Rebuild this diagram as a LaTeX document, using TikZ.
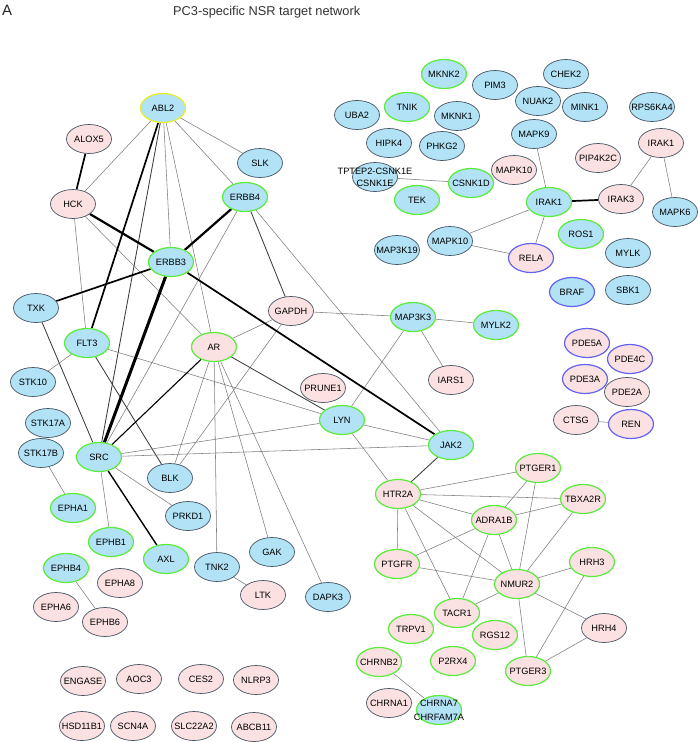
\documentclass[tikz,border=0pt]{standalone}
\usepackage{fontspec}
\setmainfont{Liberation Sans}
\usetikzlibrary{shapes.geometric,backgrounds}
\definecolor{nblue}{RGB}{178,226,246}
\definecolor{npink}{RGB}{251,225,225}
\definecolor{ndef}{RGB}{70,85,100}
\definecolor{ngreen}{RGB}{90,235,60}
\definecolor{nyellow}{RGB}{235,235,40}
\definecolor{nviolet}{RGB}{100,100,240}
\definecolor{egray}{RGB}{125,125,125}
\definecolor{edark}{RGB}{60,60,60}
\newcommand\zb[1]{\makebox[0pt]{#1}}
\newcommand\twol[4]{\makebox[0pt]{\raisebox{#3}[0pt][0pt]{\makebox[0pt]{#1}}\raisebox{#4}[0pt][0pt]{\makebox[0pt]{#2}}}}
\tikzset{
 gn/.style={ellipse, minimum width=45pt, minimum height=29pt, inner sep=0pt, font=\fontsize{9.2}{11}\selectfont},
 bl/.style={fill=nblue}, pk/.style={fill=npink},
 bd/.style={draw=ndef, line width=0.7pt},
 bg/.style={draw=ngreen, line width=1.2pt},
 by/.style={draw=nyellow, line width=1.2pt},
 bv/.style={draw=nviolet, line width=1.2pt},
 e/.style={draw=egray, line width=0.55pt},
 em/.style={draw=edark, line width=0.85pt},
 et/.style={draw=black, line width=1.7pt},
 ett/.style={draw=black, line width=2.2pt},
 ettt/.style={draw=black, line width=3pt}
}
\begin{document}
\begin{tikzpicture}[x=1pt,y=-1pt]
\useasboundingbox (0,0) rectangle (697,742);
% title
\node[anchor=base west, inner sep=0pt, font=\fontsize{15}{17}\selectfont, text=black!85] (lblA) at (2,15) {A};
\node[anchor=base west, inner sep=0pt, font=\fontsize{12.8}{15}\selectfont, text=black!80] (title) at (173,15) {PC3-specific NSR target network};
% left cluster
\node[gn,bl,by] (ABL2) at (163,108) {\zb{ABL2}};
\node[gn,pk,bd] (ALOX5) at (89,139) {\zb{ALOX5}};
\node[gn,bl,bd] (SLK) at (260,163) {\zb{SLK}};
\node[gn,pk,bd] (HCK) at (73,204) {\zb{HCK}};
\node[gn,bl,bg] (ERBB4) at (245,197) {\zb{ERBB4}};
\node[gn,bl,bg] (ERBB3) at (171,262) {\zb{ERBB3}};
\node[gn,bl,bd] (TXK) at (36,308) {\zb{TXK}};
\node[gn,bl,bg] (FLT3) at (87,343) {\zb{FLT3}};
\node[gn,pk,bd] (GAPDH) at (291,311) {\zb{GAPDH}};
\node[gn,pk,bg] (AR) at (214,347) {\zb{AR}};
\node[gn,bl,bd] (STK10) at (33,382) {\zb{STK10}};
\node[gn,pk,bd] (PRUNE1) at (323,388) {\zb{PRUNE1}};
\node[gn,bl,bg] (LYN) at (342,420) {\zb{LYN}};
\node[gn,bl,bd] (STK17A) at (48,423) {\zb{STK17A}};
\node[gn,bl,bd] (STK17B) at (41,453) {\zb{STK17B}};
\node[gn,bl,bg] (SRC) at (99,457) {\zb{SRC}};
\node[gn,bl,bd] (BLK) at (170,478) {\zb{BLK}};
\node[gn,bl,bg] (EPHA1) at (73,508) {\zb{EPHA1}};
\node[gn,bl,bd] (PRKD1) at (188,516) {\zb{PRKD1}};
\node[gn,bl,bg] (EPHB1) at (111,542) {\zb{EPHB1}};
\node[gn,bl,bg] (AXL) at (166,559) {\zb{AXL}};
\node[gn,bl,bd] (GAK) at (272,552) {\zb{GAK}};
\node[gn,bl,bd] (TNK2) at (217,567) {\zb{TNK2}};
\node[gn,bl,bg] (EPHB4) at (66,568) {\zb{EPHB4}};
\node[gn,pk,bd] (EPHA8) at (120,583) {\zb{EPHA8}};
\node[gn,pk,bd] (LTK) at (263,595) {\zb{LTK}};
\node[gn,bl,bd] (DAPK3) at (328,597) {\zb{DAPK3}};
\node[gn,pk,bd] (EPHA6) at (56,607) {\zb{EPHA6}};
\node[gn,pk,bd] (EPHB6) at (105,622) {\zb{EPHB6}};
\node[gn,pk,bd] (ENGASE) at (83,681) {\zb{ENGASE}};
\node[gn,pk,bd] (AOC3) at (139,679) {\zb{AOC3}};
\node[gn,pk,bd] (CES2) at (201,679) {\zb{CES2}};
\node[gn,pk,bd] (NLRP3) at (256,680) {\zb{NLRP3}};
\node[gn,pk,bd] (HSD11B1) at (82,726) {\zb{HSD11B1}};
\node[gn,pk,bd] (SCN4A) at (133,726) {\zb{SCN4A}};
\node[gn,pk,bd] (SLC22A2) at (194,726) {\zb{SLC22A2}};
\node[gn,pk,bd] (ABCB11) at (254,727) {\zb{ABCB11}};
% right top cluster
\node[gn,bl,bg] (MKNK2) at (444,74) {\zb{MKNK2}};
\node[gn,bl,bd] (PIM3) at (495,85) {\zb{PIM3}};
\node[gn,bl,bd] (CHEK2) at (566,74) {\zb{CHEK2}};
\node[gn,bl,bd] (NUAK2) at (538,101) {\zb{NUAK2}};
\node[gn,bl,bd] (MINK1) at (585,107) {\zb{MINK1}};
\node[gn,bl,bd] (RPS6KA4) at (652,107) {\zb{RPS6KA4}};
\node[gn,bl,bg] (TNIK) at (407,107) {\zb{TNIK}};
\node[gn,bl,bd] (UBA2) at (357,115) {\zb{UBA2}};
\node[gn,bl,bd] (MKNK1) at (457,116) {\zb{MKNK1}};
\node[gn,bl,bd] (HIPK4) at (389,143) {\zb{HIPK4}};
\node[gn,bl,bd] (PHKG2) at (442,146) {\zb{PHKG2}};
\node[gn,bl,bd] (MAPK9) at (534,134) {\zb{MAPK9}};
\node[gn,pk,bd] (IRAK1p) at (661,143) {\zb{IRAK1}};
\node[gn,pk,bd] (PIP4K2C) at (598,158) {\zb{PIP4K2C}};
\node[gn,pk,bd] (MAPK10p) at (514,170) {\zb{MAPK10}};
\node[gn,bl,bd] (CSNK1E) at (375,177) {\twol{TPTEP2-CSNK1E}{CSNK1E}{2.7pt}{-9.3pt}};
\node[gn,bl,bg] (CSNK1D) at (471,183) {\zb{CSNK1D}};
\node[gn,bl,bg] (TEK) at (417,200) {\zb{TEK}};
\node[gn,bl,bg] (IRAK1b) at (549,202) {\zb{IRAK1}};
\node[gn,pk,bd] (IRAK3) at (621,199) {\zb{IRAK3}};
\node[gn,bl,bd] (MAPK6) at (675,212) {\zb{MAPK6}};
\node[gn,bl,bg] (ROS1) at (581,234) {\zb{ROS1}};
\node[gn,bl,bd] (MYLK) at (628,253) {\zb{MYLK}};
\node[gn,bl,bd] (MAPK10b) at (450,241) {\zb{MAPK10}};
\node[gn,bl,bd] (MAP3K19) at (397,250) {\zb{MAP3K19}};
\node[gn,pk,bv] (RELA) at (531,258) {\zb{RELA}};
\node[gn,bl,bv] (BRAF) at (572,292) {\zb{BRAF}};
\node[gn,bl,bd] (SBK1) at (628,290) {\zb{SBK1}};
\node[gn,bl,bg] (MAP3K3) at (413,317) {\zb{MAP3K3}};
\node[gn,bl,bg] (MYLK2) at (496,325) {\zb{MYLK2}};
\node[gn,pk,bv] (PDE5A) at (587,343) {\zb{PDE5A}};
\node[gn,pk,bv] (PDE4C) at (630,359) {\zb{PDE4C}};
\node[gn,pk,bd] (IARS1) at (451,380) {\zb{IARS1}};
\node[gn,pk,bd] (PDE2A) at (627,392) {\zb{PDE2A}};
\node[gn,pk,bv] (PDE3A) at (585,379) {\zb{PDE3A}};
\node[gn,pk,bd] (CTSG) at (576,420) {\zb{CTSG}};
\node[gn,pk,bv] (REN) at (631,424) {\zb{REN}};
\node[gn,bl,bg] (JAK2) at (451,445) {\zb{JAK2}};
% right bottom cluster
\node[gn,pk,bg] (PTGER1) at (538,468) {\zb{PTGER1}};
\node[gn,pk,bg] (HTR2A) at (398,494) {\zb{HTR2A}};
\node[gn,pk,bg] (TBXA2R) at (583,499) {\zb{TBXA2R}};
\node[gn,pk,bg] (ADRA1B) at (494,520) {\zb{ADRA1B}};
\node[gn,pk,bg] (PTGFR) at (397,564) {\zb{PTGFR}};
\node[gn,pk,bg] (HRH3) at (592,562) {\zb{HRH3}};
\node[gn,pk,bg] (NMUR2) at (517,584) {\zb{NMUR2}};
\node[gn,pk,bg] (TACR1) at (457,613) {\zb{TACR1}};
\node[gn,pk,bg] (TRPV1) at (411,629) {\zb{TRPV1}};
\node[gn,pk,bd] (HRH4) at (604,628) {\zb{HRH4}};
\node[gn,pk,bg] (RGS12) at (495,635) {\zb{RGS12}};
\node[gn,pk,bg] (CHRNB2) at (379,662) {\zb{CHRNB2}};
\node[gn,pk,bg] (P2RX4) at (453,661) {\zb{P2RX4}};
\node[gn,pk,bg] (PTGER3) at (528,671) {\zb{PTGER3}};
\node[gn,pk,bd] (CHRNA1) at (389,703) {\zb{CHRNA1}};
\node[gn,bl,bg] (CHRNA7) at (439,710) {\twol{CHRNA7}{CHRFAM7A}{3.7pt}{-10.3pt}};
\begin{pgfonlayer}{background}
\fill[white] (0,0) rectangle (697,742);
% thin edges
\draw[e] (ABL2) -- (HCK);
\draw[e] (ABL2) -- (SLK);
\draw[e] (ABL2) -- (ERBB4);
\draw[e] (ABL2) -- (ERBB3);
\draw[e] (ABL2) -- (AR);
\draw[em] (ABL2) -- (SRC);
\draw[e] (HCK) -- (FLT3);
\draw[e] (HCK) -- (AR);
\draw[e] (ERBB4) -- (SRC);
\draw[em] (ERBB4) -- (GAPDH);
\draw[e] (ERBB4) -- (JAK2);
\draw[em] (TXK) -- (SRC);
\draw[e] (FLT3) -- (STK10);
\draw[e] (FLT3) -- (LYN);
\draw[em] (FLT3) -- (BLK);
\draw[e] (GAPDH) -- (AR);
\draw[e] (GAPDH) -- (MAP3K3);
\draw[e] (GAPDH) -- (BLK);
\draw[em] (AR) -- (LYN);
\draw[e] (AR) -- (BLK);
\draw[e] (AR) -- (TNK2);
\draw[e] (AR) -- (GAK);
\draw[e] (AR) -- (DAPK3);
\draw[e] (SRC) -- (LYN);
\draw[e] (SRC) -- (JAK2);
\draw[e] (SRC) -- (EPHB1);
\draw[e] (SRC) -- (PRKD1);
\draw[e] (STK17B) -- (EPHA1);
\draw[e] (TNK2) -- (LTK);
\draw[e] (EPHB4) -- (EPHB6);
\draw[e] (MAP3K3) -- (MYLK2);
\draw[e] (MAP3K3) -- (LYN);
\draw[e] (MAP3K3) -- (IARS1);
\draw[e] (LYN) -- (JAK2);
\draw[e] (LYN) -- (HTR2A);
\draw[em] (JAK2) -- (HTR2A);
\draw[e] (HTR2A) -- (PTGER1);
\draw[e] (HTR2A) -- (TBXA2R);
\draw[e] (HTR2A) -- (ADRA1B);
\draw[e] (HTR2A) -- (PTGFR);
\draw[e] (HTR2A) -- (NMUR2);
\draw[e] (HTR2A) -- (TACR1);
\draw[e] (PTGER1) -- (ADRA1B);
\draw[e] (PTGER1) -- (NMUR2);
\draw[e] (TBXA2R) -- (ADRA1B);
\draw[e] (TBXA2R) -- (NMUR2);
\draw[e] (ADRA1B) -- (PTGFR);
\draw[e] (ADRA1B) -- (TACR1);
\draw[e] (ADRA1B) -- (NMUR2);
\draw[e] (PTGFR) -- (NMUR2);
\draw[e] (NMUR2) -- (HRH3);
\draw[e] (NMUR2) -- (TACR1);
\draw[e] (NMUR2) -- (HRH4);
\draw[e] (NMUR2) -- (PTGER3);
\draw[e] (HRH3) -- (PTGER3);
\draw[e] (HRH4) -- (PTGER3);
\draw[e] (CHRNB2) -- (CHRNA7);
\draw[e] (CSNK1E) -- (CSNK1D);
\draw[e] (MAPK9) -- (IRAK1b);
\draw[e] (IRAK1p) -- (IRAK3);
\draw[e] (IRAK1p) -- (MAPK6);
\draw[e] (IRAK1b) -- (MAPK10b);
\draw[e] (IRAK1b) -- (RELA);
\draw[e] (MAPK10b) -- (RELA);
\draw[e] (CTSG) -- (REN);
% thick edges
\draw[et] (ALOX5) -- (HCK);
\draw[ett] (HCK) -- (ERBB3);
\draw[et] (ABL2) -- (FLT3);
\draw[ett] (ERBB3) -- (ERBB4);
\draw[et] (ERBB3) -- (TXK);
\draw[ettt] (ERBB3) -- (SRC);
\draw[et] (ERBB3) -- (JAK2);
\draw[draw=black, line width=1.4pt] (SRC) -- (AXL);
\draw[draw=black, line width=1.1pt] (AR) -- (SRC);
\draw[et] (IRAK1b) -- (IRAK3);
\end{pgfonlayer}
\end{tikzpicture}
\end{document}
